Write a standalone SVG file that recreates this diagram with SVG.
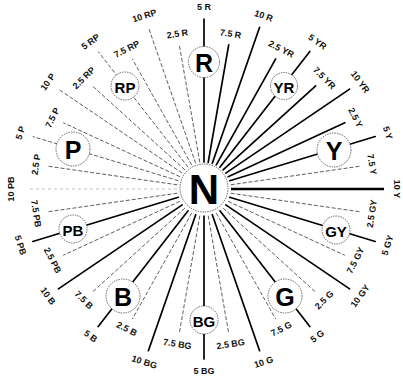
<svg xmlns="http://www.w3.org/2000/svg" width="403" height="380" viewBox="0 0 403 380">
<style>
.s{stroke:#000;stroke-width:1.7;stroke-linecap:round}
.t{stroke:#000;stroke-width:2.6}
.d{stroke:#333;stroke-width:0.8;stroke-dasharray:4 2}
.f{stroke:#999;stroke-width:0.6;stroke-dasharray:3 3}
.c{fill:#fff;stroke:#444;stroke-width:0.8;stroke-dasharray:1.5 1}
.lb{font-family:"Liberation Sans",Arial,sans-serif;font-weight:bold;font-size:9px;fill:#111;text-anchor:middle;dominant-baseline:central}
.big{font-family:"Liberation Sans",Arial,sans-serif;font-weight:bold;font-size:25px;fill:#000;text-anchor:middle;dominant-baseline:central}
.sm{font-family:"Liberation Sans",Arial,sans-serif;font-weight:bold;font-size:15px;fill:#000;text-anchor:middle;dominant-baseline:central}
</style>
<rect width="403" height="380" fill="#fff"/>
<g id="connectors">
<line class="s" x1="204" y1="162" x2="204" y2="19"/>
<line class="s" x1="208.2" y1="162.3" x2="228.7" y2="44.8"/>
<line class="s" x1="212.3" y1="163.3" x2="259.6" y2="27.3"/>
<line class="s" x1="216.3" y1="164.9" x2="275.7" y2="58.9"/>
<line class="s" x1="219.9" y1="167.2" x2="309.8" y2="51.5"/>
<line class="s" x1="223.1" y1="169.9" x2="315.7" y2="85.8"/>
<line class="s" x1="225.8" y1="173.1" x2="349.6" y2="89.1"/>
<line class="s" x1="228.1" y1="176.7" x2="344.8" y2="122.7"/>
<line class="s" x1="229.7" y1="180.7" x2="375.2" y2="136.5"/>
<line class="d" x1="230.7" y1="184.8" x2="360.1" y2="166.2"/>
<line class="t" x1="231" y1="189" x2="384" y2="189"/>
<line class="d" x1="230.7" y1="193.2" x2="360.1" y2="211.8"/>
<line class="s" x1="229.7" y1="197.3" x2="375.2" y2="241.5"/>
<line class="d" x1="228.1" y1="201.3" x2="344.8" y2="255.3"/>
<line class="s" x1="225.8" y1="204.9" x2="349.6" y2="288.9"/>
<line class="d" x1="223.1" y1="208.1" x2="315.7" y2="292.2"/>
<line class="s" x1="219.9" y1="210.8" x2="309.8" y2="326.5"/>
<line class="d" x1="216.3" y1="213.1" x2="275.7" y2="319.1"/>
<line class="s" x1="212.3" y1="214.7" x2="259.6" y2="350.7"/>
<line class="d" x1="208.2" y1="215.7" x2="228.7" y2="333.2"/>
<line class="s" x1="204" y1="216" x2="204" y2="359"/>
<line class="d" x1="199.8" y1="215.7" x2="179.3" y2="333.2"/>
<line class="s" x1="195.7" y1="214.7" x2="148.4" y2="350.7"/>
<line class="d" x1="191.7" y1="213.1" x2="132.3" y2="319.1"/>
<line class="s" x1="188.1" y1="210.8" x2="98.2" y2="326.5"/>
<line class="d" x1="184.9" y1="208.1" x2="92.3" y2="292.2"/>
<line class="s" x1="182.2" y1="204.9" x2="58.4" y2="288.9"/>
<line class="d" x1="179.9" y1="201.3" x2="63.2" y2="255.3"/>
<line class="s" x1="178.3" y1="197.3" x2="32.8" y2="241.5"/>
<line class="d" x1="177.3" y1="193.2" x2="47.9" y2="211.8"/>
<line class="f" x1="177" y1="189" x2="30" y2="189"/>
<line class="d" x1="177.3" y1="184.8" x2="47.9" y2="166.2"/>
<line class="d" x1="178.3" y1="180.7" x2="32.8" y2="136.5"/>
<line class="d" x1="179.9" y1="176.7" x2="63.2" y2="122.7"/>
<line class="d" x1="182.2" y1="173.1" x2="58.4" y2="89.1"/>
<line class="d" x1="184.9" y1="169.9" x2="92.3" y2="85.8"/>
<line class="d" x1="188.1" y1="167.2" x2="98.2" y2="51.5"/>
<line class="d" x1="191.7" y1="164.9" x2="132.3" y2="58.9"/>
<line class="d" x1="195.7" y1="163.3" x2="148.4" y2="27.3"/>
<line class="d" x1="199.8" y1="162.3" x2="179.3" y2="44.8"/>
</g>
<g id="labels">
<text class="lb" x="204" y="7">5 R</text>
<text class="lb" transform="translate(230.6 33.9) rotate(9)">7.5 R</text>
<text class="lb" transform="translate(263.6 15.9) rotate(18)">10 R</text>
<text class="lb" transform="translate(281.2 49.1) rotate(27)">2.5 YR</text>
<text class="lb" transform="translate(317.4 41.8) rotate(36)">5 YR</text>
<text class="lb" transform="translate(324.2 78) rotate(45)">7.5 YR</text>
<text class="lb" transform="translate(360.1 82) rotate(54)">10 YR</text>
<text class="lb" transform="translate(355.5 117.7) rotate(63)">2.5 Y</text>
<text class="lb" transform="translate(387.6 132.8) rotate(72)">5 Y</text>
<text class="lb" transform="translate(371.9 164.4) rotate(81)">7.5 Y</text>
<text class="lb" transform="translate(397 189) rotate(90)">10 Y</text>
<text class="lb" transform="translate(371.9 213.6) rotate(-81)">2.5 GY</text>
<text class="lb" transform="translate(387.6 245.2) rotate(-72)">5 GY</text>
<text class="lb" transform="translate(355.5 260.3) rotate(-63)">7.5 GY</text>
<text class="lb" transform="translate(360.1 296) rotate(-54)">10 GY</text>
<text class="lb" transform="translate(324.2 300) rotate(-45)">2.5 G</text>
<text class="lb" transform="translate(317.4 336.2) rotate(-36)">5 G</text>
<text class="lb" transform="translate(281.2 328.9) rotate(-27)">7.5 G</text>
<text class="lb" transform="translate(263.6 362.1) rotate(-18)">10 G</text>
<text class="lb" transform="translate(230.6 344.1) rotate(-9)">2.5 BG</text>
<text class="lb" x="204" y="371">5 BG</text>
<text class="lb" transform="translate(177.4 344.1) rotate(9)">7.5 BG</text>
<text class="lb" transform="translate(144.4 362.1) rotate(18)">10 BG</text>
<text class="lb" transform="translate(126.8 328.9) rotate(27)">2.5 B</text>
<text class="lb" transform="translate(90.6 336.2) rotate(36)">5 B</text>
<text class="lb" transform="translate(83.8 300) rotate(45)">7.5 B</text>
<text class="lb" transform="translate(47.9 296) rotate(54)">10 B</text>
<text class="lb" transform="translate(52.5 260.3) rotate(63)">2.5 PB</text>
<text class="lb" transform="translate(20.4 245.2) rotate(72)">5 PB</text>
<text class="lb" transform="translate(36.1 213.6) rotate(81)">7.5 PB</text>
<text class="lb" transform="translate(11 189) rotate(-90)">10 PB</text>
<text class="lb" transform="translate(36.1 164.4) rotate(-81)">2.5 P</text>
<text class="lb" transform="translate(20.4 132.8) rotate(-72)">5 P</text>
<text class="lb" transform="translate(52.5 117.7) rotate(-63)">7.5 P</text>
<text class="lb" transform="translate(47.9 82) rotate(-54)">10 P</text>
<text class="lb" transform="translate(83.8 78) rotate(-45)">2.5 RP</text>
<text class="lb" transform="translate(90.6 41.8) rotate(-36)">5 RP</text>
<text class="lb" transform="translate(126.8 49.1) rotate(-27)">7.5 RP</text>
<text class="lb" transform="translate(144.4 15.9) rotate(-18)">10 RP</text>
<text class="lb" transform="translate(177.4 33.9) rotate(-9)">2.5 R</text>
</g>
<g id="N"><circle class="c" cx="204" cy="188" r="24"/><text x="204" y="189" style="font-family:'Liberation Sans',Arial,sans-serif;font-weight:bold;font-size:42px;text-anchor:middle;dominant-baseline:central">N</text></g>
<g id="R"><circle class="c" cx="204" cy="62" r="15.5"/><text class="big" x="204" y="63">R</text></g>
<g id="YR"><circle class="c" cx="284" cy="86" r="13.5"/><text class="sm" x="284" y="87">YR</text></g>
<g id="Y"><circle class="c" cx="334" cy="150" r="17"/><text class="big" x="334" y="151">Y</text></g>
<g id="GY"><circle class="c" cx="336" cy="230" r="14"/><text class="sm" x="336" y="231">GY</text></g>
<g id="G"><circle class="c" cx="285" cy="296" r="17"/><text class="big" x="285" y="297">G</text></g>
<g id="BG"><circle class="c" cx="204" cy="320" r="14"/><text class="sm" x="204" y="321">BG</text></g>
<g id="B"><circle class="c" cx="123" cy="296" r="17"/><text class="big" x="123" y="297">B</text></g>
<g id="PB"><circle class="c" cx="73" cy="229" r="14"/><text class="sm" x="73" y="230">PB</text></g>
<g id="P"><circle class="c" cx="73" cy="149" r="17"/><text class="big" x="73" y="150">P</text></g>
<g id="RP"><circle class="c" cx="125" cy="86" r="14"/><text class="sm" x="125" y="87">RP</text></g>
</svg>
